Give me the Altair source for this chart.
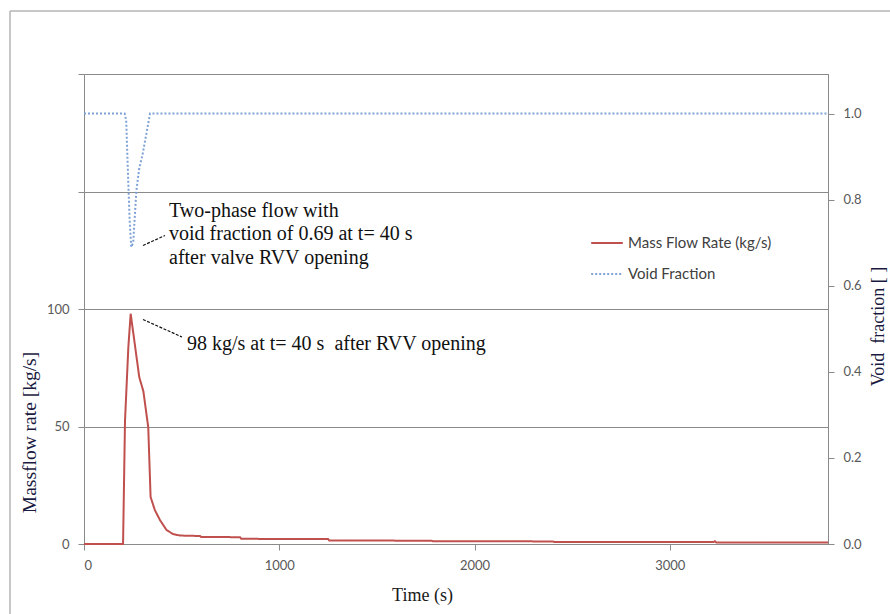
import altair as alt
import pandas as pd

# ---- data ----
mass_time = [0, 200, 210, 227, 239, 283, 304, 329, 341, 363, 389, 423, 457, 492, 594, 600,
             799, 805, 1250, 1256, 1780, 1786, 2402, 2408, 3224, 3231, 3238, 3810]
mass_flow = [0, 0, 52.5, 83.6, 98, 71, 65, 49.7, 20, 14.4, 10.2, 5.9, 4.2, 3.6, 3.4, 3.0,
             2.9, 2.2, 2.1, 1.5, 1.4, 1.2, 1.1, 0.8, 0.8, 1.2, 0.6, 0.6]

void_time = [0, 208, 216, 226, 234, 242, 252, 268, 282, 300, 320, 338, 3810]
void_frac = [1, 1, 0.985, 0.85, 0.75, 0.69, 0.70, 0.82, 0.87, 0.905, 0.955, 1.0, 1.0]

series_names = ["Mass Flow Rate (kg/s)", "Void Fraction"]
series_colors = ["#C0504D", "#7EA2D6"]
series_dash = [[1, 0], [2, 2]]

x_ticks = [0, 1000, 2000, 3000]
left_ticks = [0, 50, 100, 150, 200]
right_ticks = [0.0, 0.2, 0.4, 0.6, 0.8, 1.0]

ann_void = ["Two-phase flow with", "void fraction of 0.69 at t= 40 s", "after valve RVV opening"]
ann_mass = "98 kg/s at t= 40 s\u00a0 after RVV opening"

mass_df = pd.DataFrame({"time": mass_time, "value": mass_flow, "series": series_names[0]})
void_df = pd.DataFrame({"time": void_time, "value": void_frac, "series": series_names[1]})

W, H = 744, 470
AX = "#8A8A8A"
TICKFONT = "Lato"
SERIF = "Liberation Serif"

color_scale = alt.Scale(domain=series_names, range=series_colors)
dash_scale = alt.Scale(domain=series_names, range=series_dash)

x_enc = alt.X("time:Q", scale=alt.Scale(domain=[0, 3810], nice=False),
              axis=alt.Axis(values=x_ticks, format="d", title="Time (s)", grid=False,
                            titleX=338, titleY=51, titleBaseline="middle",
                            titleFont=SERIF, titleFontSize=18, titleFontWeight="normal",
                            titleColor="#1a1a1a"))

mass_line = alt.Chart(mass_df).mark_line(strokeWidth=2).encode(
    x=x_enc,
    y=alt.Y("value:Q", scale=alt.Scale(domain=[0, 200], nice=False),
            axis=alt.Axis(values=left_ticks, grid=True,
                          labelExpr="datum.value <= 100 ? datum.label : ''",
                          title="Massflow rate [kg/s]", titleAngle=270,
                          titleX=-55, titleY=358, titleBaseline="middle", titleAlign="center",
                          titleFont=SERIF, titleFontSize=19.5, titleFontWeight="normal",
                          titleColor="#1a1a40")),
    color=alt.Color("series:N", scale=color_scale, legend=alt.Legend(title=None)),
    strokeDash=alt.StrokeDash("series:N", scale=dash_scale, legend=alt.Legend(title=None)),
)

void_line = alt.Chart(void_df).mark_line(strokeWidth=2).encode(
    x=x_enc,
    y=alt.Y("value:Q", scale=alt.Scale(domain=[0, 1.092], nice=False, zero=True),
            axis=alt.Axis(orient="right", values=right_ticks, format=".1f", grid=False,
                          title="Void\u00a0 fraction [ ]", titleAngle=270,
                          titleX=50, titleY=252, titleBaseline="middle", titleAlign="center",
                          titleFont=SERIF, titleFontSize=18, titleFontWeight="normal",
                          titleColor="#1a1a40")),
    color=alt.Color("series:N", scale=color_scale, legend=alt.Legend(title=None)),
    strokeDash=alt.StrokeDash("series:N", scale=dash_scale, legend=alt.Legend(title=None)),
)

one = alt.Data(values=[{"k": 1}])

txt_void = alt.Chart(one).mark_text(
    text=ann_void, align="left", baseline="middle", font=SERIF, fontSize=20,
    lineHeight=23.5, color="#111111"
).encode(x=alt.value(85), y=alt.value(136.5))

txt_mass = alt.Chart(one).mark_text(
    text=ann_mass, align="left", baseline="middle", font=SERIF, fontSize=20, color="#111111"
).encode(x=alt.value(103), y=alt.value(269.5))

lead_void = alt.Chart(one).mark_rule(color="#111111", strokeWidth=1.2, strokeDash=[3, 1.5]).encode(
    x=alt.value(59), y=alt.value(171.5), x2=alt.value(81), y2=alt.value(161.5))
lead_mass = alt.Chart(one).mark_rule(color="#111111", strokeWidth=1.2, strokeDash=[3, 1.5]).encode(
    x=alt.value(59), y=alt.value(245.5), x2=alt.value(98), y2=alt.value(263))

frame_left = alt.Chart(one).mark_rule(color="#B5B5B5", strokeWidth=1.5).encode(
    x=alt.value(-74), y=alt.value(-63), y2=alt.value(560))
frame_top = alt.Chart(one).mark_rule(color="#B5B5B5", strokeWidth=1.5).encode(
    x=alt.value(-74), x2=alt.value(820), y=alt.value(-63))

chart = alt.layer(
    frame_left, frame_top, mass_line, void_line, txt_void, txt_mass, lead_void, lead_mass
).resolve_scale(y="independent").properties(
    width=W, height=H,
    autosize=alt.AutoSizeParams(type="none"),
    padding={"left": 84, "top": 74, "right": 62, "bottom": 70},
    background="white",
).configure_view(
    stroke=AX, strokeWidth=1
).configure_axis(
    domainColor=AX, tickColor=AX, gridColor=AX, gridWidth=1, domainWidth=1,
    tickSize=6, labelFont=TICKFONT, labelFontSize=13, labelColor="#595959",
    labelPadding=9,
).configure_legend(
    orient="none", legendX=506, legendY=152, symbolType="stroke",
    symbolSize=1000, symbolStrokeWidth=2, labelFont=TICKFONT, labelFontSize=15,
    labelColor="#404040", labelOffset=4, rowPadding=6, padding=0,
)

chart.save("out.html", embed_options={"renderer": "svg", "actions": False})
